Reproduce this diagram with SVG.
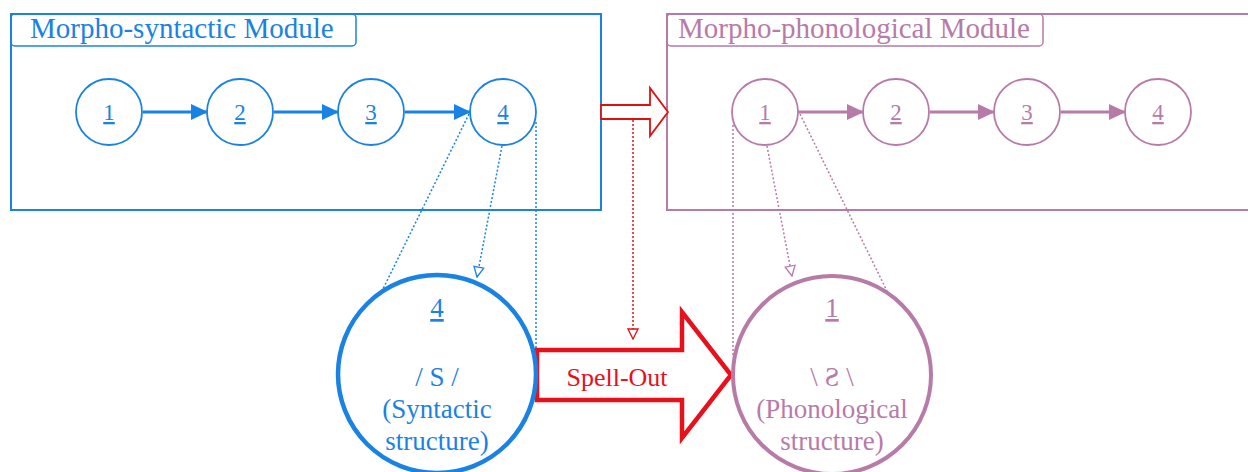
<svg xmlns="http://www.w3.org/2000/svg" width="1248" height="472" viewBox="0 0 1248 472">
<style>
.b{stroke:#1a82e2;fill:none}
.p{stroke:#b77ba8;fill:none}
.tb{fill:#1a82e2;stroke:none}
.tp{fill:#b77ba8;stroke:none}
.num{font-size:23px;text-anchor:middle;text-decoration:underline}
.big{font-size:27px;text-anchor:middle}
.title{font-size:29px}
.dot{stroke-width:1.5;stroke-dasharray:2 2;fill:none}
</style>
<defs>
<marker id="ab" markerWidth="17" markerHeight="16" refX="16" refY="8" orient="auto" markerUnits="userSpaceOnUse"><path d="M0,0 L17,8 L0,16 Z" fill="#1a82e2"/></marker>
<marker id="ap" markerWidth="17" markerHeight="16" refX="16" refY="8" orient="auto" markerUnits="userSpaceOnUse"><path d="M0,0 L17,8 L0,16 Z" fill="#b77ba8"/></marker>
<marker id="ob" markerWidth="12" markerHeight="12" refX="11" refY="6" orient="auto" markerUnits="userSpaceOnUse"><path d="M1,1 L11,6 L1,11 Z" fill="#fff" stroke="#1a82e2" stroke-width="1.3"/></marker>
<marker id="op" markerWidth="12" markerHeight="12" refX="11" refY="6" orient="auto" markerUnits="userSpaceOnUse"><path d="M1,1 L11,6 L1,11 Z" fill="#fff" stroke="#b77ba8" stroke-width="1.3"/></marker>
<marker id="or" markerWidth="12" markerHeight="12" refX="11" refY="6" orient="auto" markerUnits="userSpaceOnUse"><path d="M1,1 L11,6 L1,11 Z" fill="#fff" stroke="#e01010" stroke-width="1.3"/></marker>
</defs>
<rect width="1248" height="472" fill="#fff"/>

<g id="module-syntactic">
<rect x="11" y="14" width="590" height="196" class="b" stroke-width="2"/>
<rect x="11" y="14" width="345" height="32" rx="4" class="b" stroke-width="1.5"/>
<text x="30" y="38" class="title tb" font-family="Liberation Serif, serif">Morpho-syntactic Module</text>
</g>
<g id="module-phonological">
<rect x="667" y="14" width="600" height="196" class="p" stroke-width="2"/>
<rect x="667" y="14" width="376" height="32" rx="4" class="p" stroke-width="1.5"/>
<text x="678" y="38" class="title tp" font-family="Liberation Serif, serif">Morpho-phonological Module</text>
</g>

<g id="transfer-arrow">
<polygon points="601,105 650,105 650,88 668,112 650,136 650,119 601,119" fill="#fff" stroke="#e01010" stroke-width="1.8"/>
</g>

<g id="connectors">
<line x1="143" y1="112" x2="207" y2="112" class="b" stroke-width="3" marker-end="url(#ab)"/>
<line x1="274" y1="112" x2="338" y2="112" class="b" stroke-width="3" marker-end="url(#ab)"/>
<line x1="405" y1="112" x2="470" y2="112" class="b" stroke-width="3" marker-end="url(#ab)"/>
<line x1="798" y1="112" x2="863" y2="112" class="p" stroke-width="3" marker-end="url(#ap)"/>
<line x1="930" y1="112" x2="994" y2="112" class="p" stroke-width="3" marker-end="url(#ap)"/>
<line x1="1061" y1="112" x2="1125" y2="112" class="p" stroke-width="3" marker-end="url(#ap)"/>
<line x1="469" y1="114" x2="382" y2="291" class="b dot"/>
<line x1="502" y1="146" x2="477" y2="277" class="b dot" marker-end="url(#ob)"/>
<line x1="536" y1="122" x2="536" y2="348" class="b dot"/>
<line x1="733" y1="125" x2="733" y2="355" class="p dot"/>
<line x1="767" y1="146" x2="792" y2="276" class="p dot" marker-end="url(#op)"/>
<line x1="800" y1="114" x2="887" y2="291" class="p dot"/>
<line x1="633" y1="120" x2="633" y2="339" stroke="#e01010" class="dot" marker-end="url(#or)"/>
</g>

<g id="s1"><circle cx="109" cy="112" r="33" class="b" stroke-width="1.8" fill="#fff"/><text x="109" y="120" class="num tb" font-family="Liberation Serif, serif">1</text></g>
<g id="s2"><circle cx="240" cy="112" r="33" class="b" stroke-width="1.8" fill="#fff"/><text x="240" y="120" class="num tb" font-family="Liberation Serif, serif">2</text></g>
<g id="s3"><circle cx="371" cy="112" r="33" class="b" stroke-width="1.8" fill="#fff"/><text x="371" y="120" class="num tb" font-family="Liberation Serif, serif">3</text></g>
<g id="s4"><circle cx="503" cy="112" r="33" class="b" stroke-width="1.8" fill="none"/><text x="503" y="120" class="num tb" font-family="Liberation Serif, serif">4</text></g>
<g id="p1"><circle cx="765" cy="112" r="33" class="p" stroke-width="1.8" fill="none"/><text x="765" y="120" class="num tp" font-family="Liberation Serif, serif">1</text></g>
<g id="p2"><circle cx="896" cy="112" r="33" class="p" stroke-width="1.8" fill="#fff"/><text x="896" y="120" class="num tp" font-family="Liberation Serif, serif">2</text></g>
<g id="p3"><circle cx="1027" cy="112" r="33" class="p" stroke-width="1.8" fill="#fff"/><text x="1027" y="120" class="num tp" font-family="Liberation Serif, serif">3</text></g>
<g id="p4"><circle cx="1158" cy="112" r="33" class="p" stroke-width="1.8" fill="#fff"/><text x="1158" y="120" class="num tp" font-family="Liberation Serif, serif">4</text></g>

<g id="spell-out">
<polygon points="537,350 682,350 682,312 731,375 682,438 682,400 537,400" fill="#fff" stroke="#e8101a" stroke-width="4.5" stroke-linejoin="miter"/>
<text x="617" y="386" font-size="26" text-anchor="middle" fill="#e8101a" font-family="Liberation Serif, serif">Spell-Out</text>
</g>

<g id="big-syntactic" font-family="Liberation Serif, serif">
<circle cx="437" cy="374" r="99" class="b" stroke-width="4.5"/>
<text x="437" y="317" class="big tb" text-decoration="underline" font-size="28" font-family="Liberation Serif, serif">4</text>
<text x="437" y="386" class="big tb" font-family="Liberation Serif, serif">/ S /</text>
<text x="437" y="418" class="big tb" font-family="Liberation Serif, serif">(Syntactic</text>
<text x="437" y="450" class="big tb" font-family="Liberation Serif, serif">structure)</text>
</g>
<g id="big-phonological" font-family="Liberation Serif, serif">
<circle cx="832" cy="375" r="99" class="p" stroke-width="4"/>
<text x="832" y="317" class="big tp" text-decoration="underline" font-size="28" font-family="Liberation Serif, serif">1</text>
<text x="832" y="386" class="big tp" font-family="Liberation Serif, serif">\ Ƨ \</text>
<text x="832" y="418" class="big tp" font-family="Liberation Serif, serif">(Phonological</text>
<text x="832" y="450" class="big tp" font-family="Liberation Serif, serif">structure)</text>
</g>
</svg>
